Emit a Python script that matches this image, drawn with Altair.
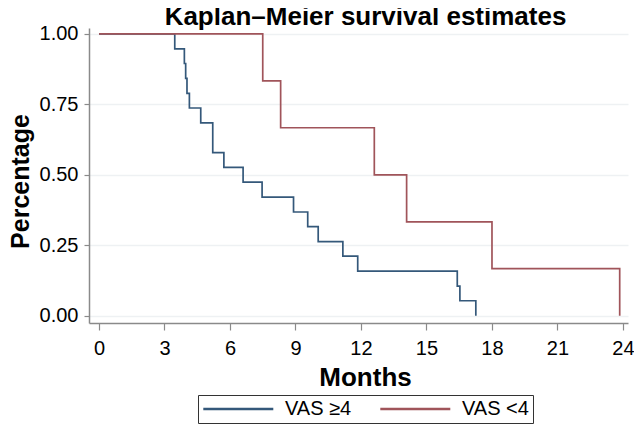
import altair as alt
import pandas as pd

# Kaplan-Meier step points (months, survival)
blue_label = "VAS ≥4"
blue_times = [0, 3.47, 3.91, 3.97, 4.03, 4.14, 4.66, 5.21, 5.72, 6.60, 7.47, 8.91, 9.56, 10.04, 11.17, 11.85, 16.41, 16.53, 17.26]
blue_surv = [1.0, 0.947, 0.895, 0.842, 0.789, 0.737, 0.684, 0.579, 0.526, 0.474, 0.421, 0.368, 0.316, 0.263, 0.211, 0.158, 0.105, 0.053, 0.0]

red_label = "VAS <4"
red_times = [0, 7.50, 8.32, 12.61, 14.09, 18.00, 23.85]
red_surv = [1.0, 0.833, 0.667, 0.500, 0.333, 0.167, 0.0]

x_ticks = [0, 3, 6, 9, 12, 15, 18, 21, 24]
y_ticks = [0.0, 0.25, 0.5, 0.75, 1.0]

groups = [blue_label, red_label]
colors = ["#34587a", "#a0545a"]

rows = []
for i, (t, s) in enumerate(zip(blue_times, blue_surv)):
    rows.append({"group": blue_label, "months": t, "surv": s, "order": i})
for i, (t, s) in enumerate(zip(red_times, red_surv)):
    rows.append({"group": red_label, "months": t, "surv": s, "order": i})
df = pd.DataFrame(rows)

FONT = "Liberation Sans"

chart = alt.Chart(df).mark_line(interpolate="step-after", strokeWidth=1.7).encode(
    x=alt.X("months:Q",
            scale=alt.Scale(domain=[-0.458, 24.23], nice=False, zero=False),
            axis=alt.Axis(values=x_ticks, title="Months", grid=False,
                          tickSize=7, labelPadding=8, labelFontSize=20,
                          titleFontSize=26, titleFontWeight="bold",
                          titleX=276, titleAlign="center",
                          titleY=41, titleBaseline="top")),
    y=alt.Y("surv:Q",
            scale=alt.Scale(domain=[-0.026, 1.021], nice=False, zero=False),
            axis=alt.Axis(values=y_ticks, format=".2f", title="Percentage",
                          grid=True, tickSize=5, labelPadding=6, labelFontSize=20,
                          titleFontSize=25, titleFontWeight="bold",
                          titleX=-61, titleY=153, titleBaseline="alphabetic")),
    color=alt.Color("group:N",
                    scale=alt.Scale(domain=groups, range=colors),
                    sort=groups,
                    legend=alt.Legend(title=None, orient="none", direction="horizontal",
                                      legendX=109, legendY=367,
                                      symbolType="M-1.74,0H12.26", symbolSize=100,
                                      symbolStrokeWidth=2.5, labelFontSize=20,
                                      labelFont=FONT,
                                      labelOffset=63, columnPadding=23,
                                      padding=4, strokeColor="#333333",
                                      fillColor="white", cornerRadius=0)),
    order="order:Q",
).properties(
    width=539,
    height=295,
    title=alt.TitleParams("Kaplan–Meier survival estimates", fontSize=26,
                          fontWeight="bold", font=FONT, anchor="middle",
                          color="black", offset=-6, dx=7),
    autosize=alt.AutoSizeParams(type="none"),
    padding={"left": 81, "top": 20, "right": 6, "bottom": 109},
).configure_view(stroke=None).configure_axis(
    labelFont=FONT, titleFont=FONT, labelColor="black", titleColor="black",
    domainColor="#8a8a8a", tickColor="#8a8a8a", domainWidth=1.5, tickWidth=1.2,
    gridColor="#eef1f3", gridWidth=1.5,
).configure_legend(labelFont=FONT, labelColor="black")

chart.save("out.html", embed_options={"renderer": "svg", "actions": False})
